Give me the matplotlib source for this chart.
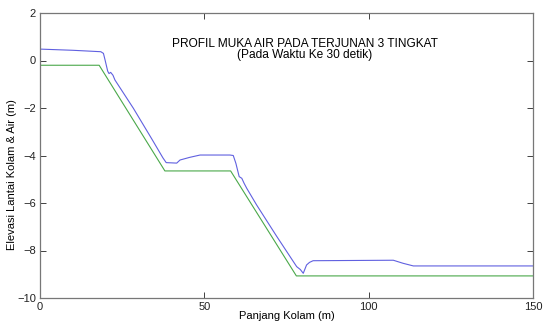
import matplotlib
matplotlib.use("Agg")
import matplotlib.pyplot as plt

plt.rcParams['font.family'] = ['Liberation Sans', 'DejaVu Sans']

# Bed (lantai kolam) profile
bed_x = [0, 18, 38, 58, 78, 150]
bed_y = [-0.2, -0.2, -4.65, -4.65, -9.07, -9.07]

# Water surface (muka air) profile
water_x = [0, 10, 18.5, 19.3, 19.8, 20.6, 21.0, 21.5, 22.2, 22.8, 28.4, 34.0, 37.4, 38.4,
           41.6, 42.6, 45.5, 48.7, 57.8, 58.8, 59.6, 60.6, 61.4, 62.1, 62.9, 65.9, 72.0,
           78.1, 79.2, 80.1, 81.1, 82.0, 83.1, 107.5, 110.5, 113.6, 150]
water_y = [0.48, 0.43, 0.37, 0.30, 0.02, -0.45, -0.55, -0.50, -0.62, -0.82, -2.01, -3.3, -4.1, -4.3,
           -4.32, -4.19, -4.08, -3.98, -3.98, -4.0, -4.33, -4.89, -4.96, -5.17, -5.38, -6.08, -7.4,
           -8.68, -8.80, -8.96, -8.61, -8.50, -8.43, -8.41, -8.54, -8.65, -8.65]

xticks = [0, 50, 100, 150]
yticks = [-10, -8, -6, -4, -2, 0, 2]

title_lines = ["PROFIL MUKA AIR PADA TERJUNAN 3 TINGKAT", "(Pada Waktu Ke 30 detik)"]

fig = plt.figure(figsize=(5.44, 3.22), dpi=100)
ax = fig.add_axes([40/544, 1 - 298/322, (533-40)/544, (298-13)/322])

ax.plot(water_x, water_y, color='#6060e0', lw=0.8)
ax.plot(bed_x, bed_y, color='#4aa84a', lw=0.8)

ax.set_xlim(0, 150)
ax.set_ylim(-10, 2)
ax.set_xticks(xticks)
ax.set_yticks(yticks)
ax.tick_params(direction='in', top=True, right=True, labelsize=8, length=4, width=0.6,
               colors='#222222', pad=3)
for s in ax.spines.values():
    s.set_color('#777777')
    s.set_linewidth(0.9)

ax.set_xlabel("Panjang Kolam (m)", fontsize=8)
ax.xaxis.set_label_coords(0.5, -0.045)
ax.set_ylabel("Elevasi Lantai Kolam & Air (m)", fontsize=8)
ax.yaxis.set_label_coords(-0.046, 0.432)

ax.text(80.6, 0.69, title_lines[0], ha='center', va='center', fontsize=8.6)
ax.text(80.6, 0.22, title_lines[1], ha='center', va='center', fontsize=8.6)

fig.savefig("out.png", dpi=100)
